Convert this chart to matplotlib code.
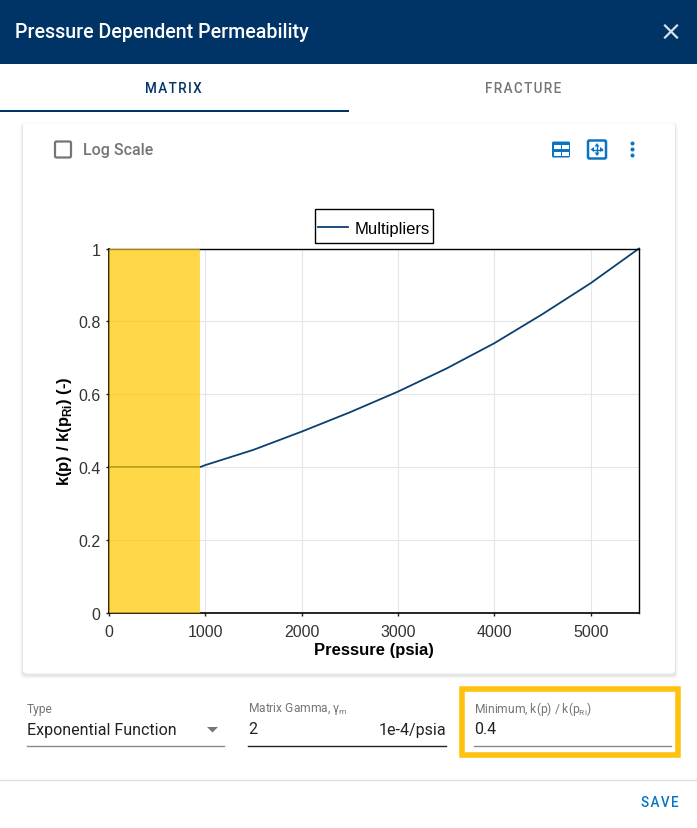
import matplotlib
matplotlib.use('Agg')
import matplotlib.pyplot as plt
from matplotlib.patches import Rectangle, FancyBboxPatch, Polygon, Circle

plt.rcParams['mathtext.fontset'] = 'custom'
plt.rcParams['mathtext.rm'] = 'Liberation Sans'
plt.rcParams['mathtext.bf'] = 'Liberation Sans:bold'

W, H = 697, 829
NAVY = '#003366'
LINE = '#0b4070'
BLUE = '#0a74c4'
YELLOW = '#ffc20e'
SHADE = '#ffc800'

pressure = [0, 950, 1000, 1500, 2000, 2500, 3000, 3500, 4000, 4500, 5000, 5500]
multiplier = [0.4, 0.4, 0.405, 0.447, 0.497, 0.55, 0.607, 0.67, 0.74, 0.82, 0.905, 1.0]
x_ticks = [0, 1000, 2000, 3000, 4000, 5000]
y_ticks = [0, 0.2, 0.4, 0.6, 0.8, 1]
y_tick_labels = ['0', '0.2', '0.4', '0.6', '0.8', '1']
shade_range = [0, 932]

fig = plt.figure(figsize=(W / 100, H / 100), dpi=100, facecolor='white')

# background axes in pixel coordinates for the dialog around the chart
bg = fig.add_axes([0, 0, 1, 1], zorder=0)
bg.set_xlim(0, W)
bg.set_ylim(H, 0)
bg.axis('off')


def label(x, y, s, size, color='#222222', ha='left', va='center', **kw):
    kw.setdefault('family', 'Roboto')
    bg.text(x, y, s, fontsize=size * 0.72, color=color, ha=ha, va=va, **kw)


def spaced(s):
    # the buttons and tabs have wide letter spacing
    return '\u200a'.join(s)


# header
bg.add_patch(Rectangle((0, 0), W, 64.5, fc=NAVY, ec='none'))
label(15, 32.5, 'Pressure Dependent Permeability', 19.7, color='white', weight='medium')
bg.plot([665, 677], [26.5, 38.5], color='#d8e0e8', lw=1.6)
bg.plot([665, 677], [38.5, 26.5], color='#d8e0e8', lw=1.6)

# tabs
label(173.5, 88.5, spaced('MATRIX'), 13.5, color=NAVY, ha='center', weight='medium')
label(523.5, 88.5, spaced('FRACTURE'), 13.5, color='#757575', ha='center', weight='medium')
bg.add_patch(Rectangle((0, 110.5), 349, 2, fc=NAVY, ec='none'))

# card with soft shadow, heavier along the bottom
for grow, alpha in [(3, 0.02), (2, 0.03), (1, 0.05)]:
    bg.add_patch(FancyBboxPatch((23 - grow, 124.5 - grow + 2), 652 + 2 * grow, 550 + 2 * grow,
                                boxstyle='round,pad=0,rounding_size=4', fc='black', ec='none', alpha=alpha))
bg.add_patch(FancyBboxPatch((23, 124.5), 652, 550, boxstyle='round,pad=0,rounding_size=4', fc='white', ec='none'))

# log scale checkbox
bg.add_patch(FancyBboxPatch((55, 142.5), 16, 16, boxstyle='round,pad=0,rounding_size=1.5', fc='white', ec='#757575', lw=1.6))
label(83, 150, 'Log Scale', 16, color='#757575', weight='medium')

# toolbar icons
bg.add_patch(FancyBboxPatch((552, 142.5), 18, 16, boxstyle='round,pad=0,rounding_size=1.5', fc=BLUE, ec='none'))
for cx, cy in [(557, 147.5), (565, 147.5), (557, 154.5), (565, 154.5)]:
    bg.add_patch(Rectangle((cx - 3, cy - 2), 6.5, 4, fc='white', ec='none'))
bg.add_patch(FancyBboxPatch((588, 141.5), 18, 18, boxstyle='round,pad=0,rounding_size=1.5', fc='white', ec=BLUE, lw=1.8))
bg.plot([597, 597], [146.5, 154.5], color=BLUE, lw=1)
bg.plot([592.5, 601.5], [150.5, 150.5], color=BLUE, lw=1)
bg.add_patch(Polygon([(597, 144), (594.5, 147.5), (599.5, 147.5)], fc=BLUE, ec='none'))
bg.add_patch(Polygon([(597, 157), (594.5, 153.5), (599.5, 153.5)], fc=BLUE, ec='none'))
bg.add_patch(Polygon([(590.5, 150.5), (594, 148), (594, 153)], fc=BLUE, ec='none'))
bg.add_patch(Polygon([(603.5, 150.5), (600, 148), (600, 153)], fc=BLUE, ec='none'))
for cy in [144.5, 150.5, 156.5]:
    bg.add_patch(Circle((632.5, cy), 2, fc=BLUE, ec='none'))

# fields under the chart
label(27, 709, 'Type', 12, color='#757575')
label(27, 730, 'Exponential Function', 16)
bg.add_patch(Polygon([(207, 728), (218, 728), (212.5, 733.5)], fc='#757575', ec='none'))
bg.plot([27, 224], [746.5, 746.5], color='#8a8a8a', lw=1)

label(247.5, 709, 'Matrix Gamma, γ$_{\\mathregular{m}}$', 12, color='#757575')
label(248, 730, '2', 16)
label(446, 730, '1e-4/psia', 16, ha='right')
bg.plot([248, 446], [746.5, 746.5], color='#222222', lw=1)

bg.add_patch(Rectangle((462, 690), 216, 66, fc='none', ec=YELLOW, lw=4))
label(473.5, 709, 'Minimum, k(p) / k(p$_{\\mathregular{Ri}}$)', 12, color='#757575')
label(474, 730, '0.4', 16)
bg.plot([474, 671], [746.5, 746.5], color='#8a8a8a', lw=1)

bg.plot([0, W], [780.5, 780.5], color='#e0e0e0', lw=1)
label(678.5, 803, spaced('SAVE'), 13.5, color=BLUE, ha='right', weight='medium')

# legend frame is taller than matplotlib's padding gives for this width
bg.add_patch(Rectangle((314.5, 209.5), 118.5, 34.5, fc='white', ec='black', lw=1))

# the chart
left, right, top, bottom = 109, 639, 249.5, 613.5
ax = fig.add_axes([left / W, 1 - bottom / H, (right - left) / W, (bottom - top) / H], zorder=1)
ax.patch.set_alpha(0)
ax.plot(pressure, multiplier, color=LINE, lw=1.3, label='Multipliers', zorder=2, clip_on=False)
ax.axvspan(shade_range[0], shade_range[1], fc=SHADE, ec=SHADE, alpha=0.72, lw=0.5, zorder=3)
ax.set_xlim(0, 5500)
ax.set_ylim(0, 1)
ax.set_xticks(x_ticks)
ax.set_yticks(y_ticks)
ax.set_yticklabels(y_tick_labels)
ax.grid(color='#e6e6e6', lw=0.8)
ax.set_axisbelow(True)
ax.tick_params(length=2.5, width=1, color='#222222', labelcolor='#333333', labelsize=11.5)
ax.tick_params(axis='x', pad=6)
ax.tick_params(axis='y', pad=3.5)
for tick in ax.get_xticklabels() + ax.get_yticklabels():
    tick.set_family('Liberation Sans')
for side in ['left', 'bottom']:
    ax.spines[side].set_linewidth(1.2)
for side in ['top', 'right']:
    ax.spines[side].set_linewidth(1)
ax.set_xlabel('Pressure (psia)', fontsize=12, family='Liberation Sans', weight='bold', labelpad=2)
ax.set_ylabel('k(p) / k(p$_{\\mathbf{Ri}}$) (-)', fontsize=12, family='Liberation Sans', weight='bold', labelpad=3)

ax.legend(loc='lower center', bbox_to_anchor=(0.5, 1.0), frameon=False,
          prop={'family': 'Liberation Sans', 'size': 12}, borderaxespad=0.42,
          handlelength=1.75, handletextpad=0.4, borderpad=0.33)

fig.savefig('out.png', dpi=100)
